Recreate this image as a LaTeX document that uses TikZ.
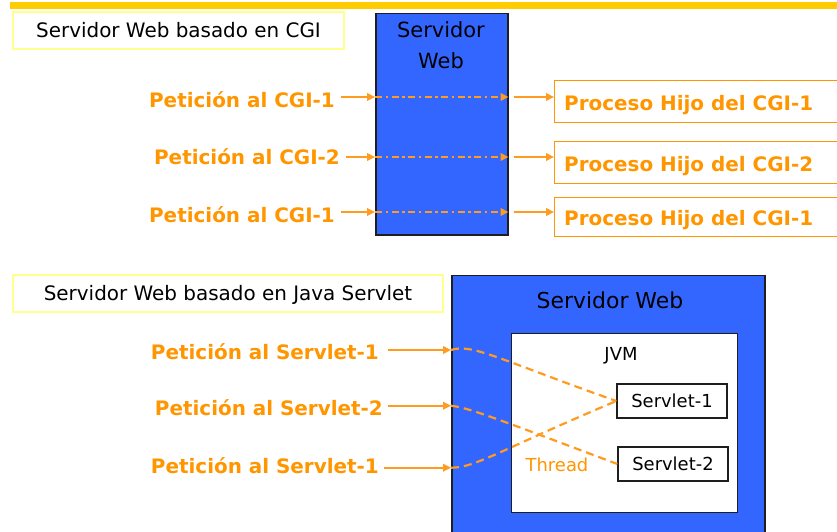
\documentclass[tikz,border=0pt]{standalone}
\usepackage{fontspec}
\setmainfont{DejaVu Sans}
\usetikzlibrary{arrows.meta}
\definecolor{org}{RGB}{255,150,0}
\definecolor{orl}{RGB}{255,155,30}
\definecolor{srvblue}{RGB}{51,102,255}
\definecolor{topbar}{RGB}{255,204,0}
\definecolor{ttlyel}{RGB}{255,255,140}
\definecolor{edge}{RGB}{30,30,30}
\begin{document}
\begin{tikzpicture}[x=1bp,y=-1bp,
  cap20/.style={font=\fontsize{20}{24}\selectfont, text height=14.6bp, text depth=0bp, inner sep=0pt},
  cap18/.style={font=\fontsize{18}{22}\selectfont, text height=13.1bp, text depth=0bp, inner sep=0pt},
  cap21/.style={font=\fontsize{21}{25}\selectfont, text height=15.3bp, text depth=0bp, inner sep=0pt},
  titlebox/.style={draw=ttlyel, line width=1.5bp, fill=white, cap20, text=black},
  srvbox/.style={draw=edge, line width=1.5bp, fill=srvblue},
  whitebox/.style={draw=edge, line width=1.3bp, fill=white},
  procbox/.style={draw=org, line width=1.3bp, fill=white},
  req/.style={cap20, font=\fontsize{20}{24}\selectfont\bfseries, text=org},
  arr/.style={draw=orl, line width=2bp, -{Triangle[length=8bp,width=7.5bp]}},
  dashdot/.style={dash pattern=on 7bp off 3.5bp on 2.5bp off 3.5bp},
  dsh/.style={draw=orl, line width=2.2bp, dash pattern=on 8bp off 5bp}
]
\useasboundingbox (0,0) rectangle (837,532);
\clip (0,0) rectangle (837,532);
\fill[white] (0,0) rectangle (837,532);
\fill[topbar] (10,2) rectangle (837,9);

% ---------- CGI section ----------
\node[titlebox, minimum width=331bp, minimum height=37bp] (t1) at (178.5,30.5) {Servidor Web basado en CGI};

\node[srvbox, anchor=north west, minimum width=132bp, minimum height=221bp] (srv1) at (375,13) {};
\node[cap21] (srv1a) at (441,30) {Servidor};
\node[cap21] (srv1b) at (441,60.5) {Web};

\coordinate (r1) at (0,97);
\coordinate (r2) at (0,157);
\coordinate (r3) at (0,212);

\node[req, anchor=east] (p1) at (335,100) {Petición al CGI-1};
\node[req, anchor=east] (p2) at (340,157) {Petición al CGI-2};
\node[req, anchor=east] (p3) at (335,215) {Petición al CGI-1};

\node[procbox, anchor=north west, minimum width=300bp, minimum height=42bp] (h1) at (554,80) {};
\node[procbox, anchor=north west, minimum width=300bp, minimum height=42bp] (h2) at (554,141) {};
\node[procbox, anchor=north west, minimum width=300bp, minimum height=39bp] (h3) at (554,197) {};
\node[req, anchor=west] (h1t) at (564,103.5) {Proceso Hijo del CGI-1};
\node[req, anchor=west] (h2t) at (564,164) {Proceso Hijo del CGI-2};
\node[req, anchor=west] (h3t) at (564,218.5) {Proceso Hijo del CGI-1};

\foreach \p/\r/\h in {p1/r1/h1, p2/r2/h2, p3/r3/h3}{
  \draw[arr] ([xshift=6bp]\p.east |- \r) -- (srv1.west |- \r);
  \draw[arr, dashdot] (srv1.west |- \r) -- (srv1.east |- \r);
  \draw[arr] ([xshift=5bp]srv1.east |- \r) -- (\h.west |- \r);
}

% ---------- Servlet section ----------
\node[titlebox, minimum width=430bp, minimum height=37bp] (t2) at (228,293.5) {Servidor Web basado en Java Servlet};

\node[srvbox, anchor=north west, minimum width=313bp, minimum height=270bp] (srv2) at (451,275) {};
\node[font=\fontsize{22}{26}\selectfont, inner sep=0pt, text height=16bp, text depth=0bp] (srv2t) at (610,300.3) {Servidor Web};

\node[whitebox, anchor=north west, minimum width=226bp, minimum height=179bp] (jvm) at (511,333) {};
\node[cap18] (jvmt) at (621,353.5) {JVM};

\node[whitebox, minimum width=110bp, minimum height=34bp, cap18] (s1) at (672,401) {Servlet-1};
\node[whitebox, minimum width=110bp, minimum height=34bp, cap18] (s2) at (673,464) {Servlet-2};
\node[cap18, text=org] (thr) at (557,464.5) {Thread};

\coordinate (q1) at (0,350);
\coordinate (q2) at (0,405.7);
\coordinate (q3) at (0,467.7);

\node[req, anchor=east] (v1) at (379,352) {Petición al Servlet-1};
\node[req, anchor=east] (v2) at (383,408) {Petición al Servlet-2};
\node[req, anchor=east] (v3) at (379,466) {Petición al Servlet-1};

\draw[arr] ([xshift=9bp]v1.east |- q1) -- (srv2.west |- q1);
\draw[arr] ([xshift=5bp]v2.east |- q2) -- (srv2.west |- q2);
\draw[arr] ([xshift=5bp]v3.east |- q3) -- (srv2.west |- q3);

\draw[dsh] (srv2.west |- q1) .. controls (472,343) and (500,360) .. (s1.west);
\draw[dsh] (srv2.west |- q2) .. controls (470,408) and (500,420) .. (s2.west);
\draw[dsh] (srv2.west |- q3) .. controls (475,468) and (500,450) .. (s1.west);
\end{tikzpicture}
\end{document}
